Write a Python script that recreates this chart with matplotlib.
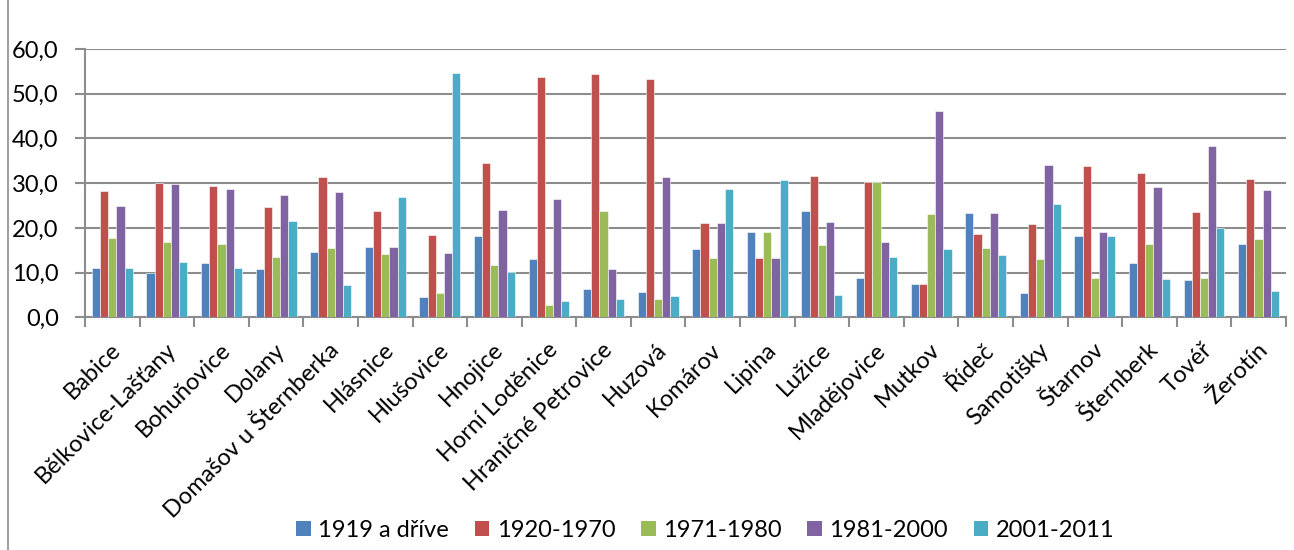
import matplotlib.pyplot as plt
import numpy as np
from matplotlib.lines import Line2D
from matplotlib.patches import Patch
from matplotlib.ticker import FixedLocator, FuncFormatter

plt.rcParams["font.family"] = ["Lato", "Open Sans", "DejaVu Sans"]

municipalities = [
    "Babice", "Bělkovice-Lašťany", "Bohuňovice", "Dolany", "Domašov u Šternberka",
    "Hlásnice", "Hlušovice", "Hnojice", "Horní Loděnice", "Hraničné Petrovice",
    "Huzová", "Komárov", "Lipina", "Lužice", "Mladějovice", "Mutkov", "Řídeč",
    "Samotišky", "Štarnov", "Šternberk", "Tovéř", "Žerotín",
]
series_labels = ["1919 a dříve", "1920-1970", "1971-1980", "1981-2000", "2001-2011"]

before_1919 = [11.0, 9.9, 12.1, 10.9, 14.5, 15.7, 4.6, 18.1, 13.1, 6.4, 5.7,
               15.3, 19.1, 23.8, 8.8, 7.5, 23.3, 5.4, 18.2, 12.2, 8.4, 16.3]
y1920_1970 = [28.2, 30.1, 29.4, 24.7, 31.3, 23.7, 18.3, 34.6, 53.8, 54.4, 53.2,
              21.1, 13.3, 31.6, 30.2, 7.5, 18.6, 20.9, 33.8, 32.3, 23.5, 30.9]
y1971_1980 = [17.7, 16.8, 16.4, 13.4, 15.6, 14.2, 5.4, 11.6, 2.7, 23.8, 4.0,
              13.3, 19.1, 16.2, 30.2, 23.0, 15.5, 13.0, 8.8, 16.3, 8.9, 17.5]
y1981_2000 = [25.0, 29.7, 28.8, 27.4, 28.1, 15.7, 14.4, 24.0, 26.4, 10.7, 31.3,
              21.1, 13.3, 21.3, 16.9, 46.2, 23.3, 34.1, 19.1, 29.1, 38.2, 28.5]
y2001_2011 = [11.0, 12.4, 11.0, 21.5, 7.2, 26.9, 54.6, 10.1, 3.6, 4.2, 4.8,
              28.8, 30.7, 4.9, 13.6, 15.3, 13.9, 25.4, 18.2, 8.6, 20.0, 6.0]

colors = ["#4F81BD", "#C0504D", "#9BBB59", "#8064A2", "#4BACC6"]


def main() -> None:
    series = [before_1919, y1920_1970, y1971_1980, y1981_2000, y2001_2011]
    fig = plt.figure(figsize=(12.94, 5.5), dpi=100)
    ax = fig.add_axes([0.0657, 0.423, 0.928, 0.488])

    x = np.arange(len(municipalities))
    width = 0.15
    for i, (values, color) in enumerate(zip(series, colors)):
        ax.bar(x + (i - 2) * width, values, width, color=color,
               edgecolor="white", linewidth=0.4, label=series_labels[i], zorder=3)

    ax.set_xlim(-0.5, len(municipalities) - 0.5)
    ax.set_ylim(0, 60)
    ax.yaxis.set_major_locator(FixedLocator(np.arange(0, 61, 10)))
    ax.yaxis.set_major_formatter(FuncFormatter(lambda v, _: f"{v:.1f}".replace(".", ",")))
    ax.grid(axis="y", color="#8c8c8c", linewidth=1.5, zorder=0)

    ax.set_xticks(x + 0.1)
    ax.set_xticklabels(municipalities, rotation=45, ha="right", va="center",
                       rotation_mode="anchor", fontsize=17)
    ax.tick_params(axis="x", length=0, pad=21)
    ax.set_xticks(np.arange(-0.5, len(municipalities)), minor=True)
    ax.tick_params(axis="x", which="minor", length=7, width=1.5, color="#8c8c8c")
    ax.tick_params(axis="y", length=7, width=1.5, color="#8c8c8c", labelsize=17, pad=12)

    for side in ["top", "right"]:
        ax.spines[side].set_visible(False)
    for side in ["left", "bottom"]:
        ax.spines[side].set_color("#8c8c8c")
        ax.spines[side].set_linewidth(1.5)

    handles = [Patch(facecolor=c) for c in colors]
    fig.legend(handles, series_labels, loc="center", bbox_to_anchor=(0.545, 0.036),
               ncol=5, frameon=False, fontsize=17, handlelength=0.62,
               handleheight=0.62, handletextpad=0.3, columnspacing=1.1)

    fig.add_artist(Line2D([0.0065, 0.0065], [0, 1], color="#8c8c8c", linewidth=1.2,
                          transform=fig.transFigure))

    fig.savefig("out.png", dpi=100)
    plt.close(fig)


if __name__ == "__main__":
    main()
